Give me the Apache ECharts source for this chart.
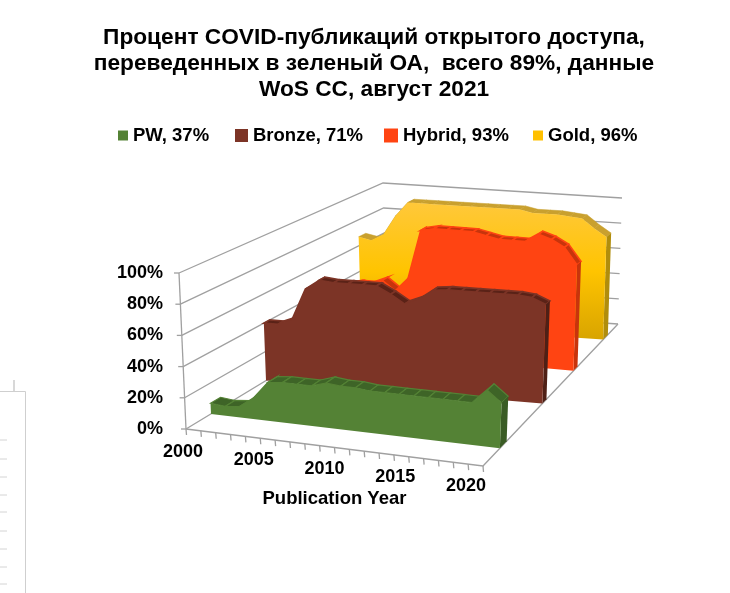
<!DOCTYPE html>
<html>
<head>
<meta charset="utf-8">
<title>COVID OA</title>
<style>
    html, body {margin: 0; padding: 0; background: #fff;}
    #main {width: 730px; height: 593px;}
</style>
<script src="https://cdn.jsdelivr.net/npm/echarts@6/dist/echarts.min.js"></script>
</head>
<body>
<div id="main"></div>
<script>
    // данные
    var years = [2000, 2001, 2002, 2003, 2004, 2005, 2006, 2007, 2008, 2009, 2010, 2011, 2012, 2013, 2014, 2015, 2016, 2017, 2018, 2019, 2020];
    var pw = [7, 6, 7, 14, 25, 26, 26, 26, 29, 28, 28, 27, 27, 27, 27, 27, 27, 27, 27, 36, 29];
    var bronze = [40, 40, 44, 66, 73, 72, 72, 72, 72, 67, 61, 65, 72, 73, 73, 73, 73, 73, 73, 72, 68];
    var hybrid = [40, 45, 48, 50, 50, 54, 47, 57, 93, 95, 95, 95, 95, 93, 91, 91, 91, 97, 94, 89, 77];
    var gold = [67, 65, 70, 85, 96, 96, 96, 96, 96, 96, 96, 96, 96, 96, 94, 94, 94, 93, 92, 85, 79];
    var percentTicks = [0, 20, 40, 60, 80, 100];
    var yearLabels = [2000, 2005, 2010, 2015, 2020];

    var FONT = '"Liberation Sans", Arial, sans-serif';
    var GRID = {left: 186, right: 483, top: 273, bottom: 429};

    // углы куба на экране (перспектива)
    var box = {
        flb: [186, 429], flt: [179, 273], frb: [483, 466], frt: [489, 305],
        blb: [386, 308], blt: [383, 183], brb: [618, 324], brt: [622, 198]
    };

    function mix(a, b, k) {
        return [a[0] + (b[0] - a[0]) * k, a[1] + (b[1] - a[1]) * k];
    }

    // t - по годам, v - по процентам, z - вглубь
    function project(t, v, z) {
        var fb = mix(box.flb, box.frb, t);
        var ft = mix(box.flt, box.frt, t);
        var bb = mix(box.blb, box.brb, t);
        var bt = mix(box.blt, box.brt, t);
        return mix(mix(fb, ft, v), mix(bb, bt, v), z);
    }

    // значения идут через оси графика, потом на плоскость куба
    // z - пара [слева, справа], глубина ряда чуть меняется из-за перспективы
    function toScreen(api, year, value, z, extra) {
        var p = api.coord([year, value]);
        var t = (p[0] - GRID.left) / (GRID.right - GRID.left);
        var v = (GRID.bottom - p[1]) / (GRID.bottom - GRID.top);
        return project(t, v, z[0] + (z[1] - z[0]) * t + (extra || 0));
    }

    function areaSeries(name, values, look) {
        return {
            type: 'custom',
            name: name,
            coordinateSystem: 'cartesian2d',
            itemStyle: {color: look.legend},
            encode: {x: 0, y: 1},
            data: years.map(function (y, i) { return [y, values[i]]; }),
            renderItem: function (params, api) {
                // вся фигура рисуется один раз, на первой точке
                if (params.dataIndex !== 0) return null;
                var z = look.z, d = look.depth;
                var children = [];
                var face = [];
                for (var i = 0; i < years.length; i++) {
                    face.push(toScreen(api, years[i], values[i], z));
                    if (i < years.length - 1) {
                        children.push({
                            type: 'polygon',
                            shape: {points: [
                                toScreen(api, years[i], values[i], z),
                                toScreen(api, years[i + 1], values[i + 1], z),
                                toScreen(api, years[i + 1], values[i + 1], z, d),
                                toScreen(api, years[i], values[i], z, d)
                            ]},
                            style: {fill: look.top, stroke: look.seam, lineWidth: look.seamWidth}
                        });
                    }
                }
                var last = years.length - 1;
                face.push(toScreen(api, years[last], 0, z));
                face.push(toScreen(api, years[0], 0, z));
                children.push({
                    type: 'polygon',
                    shape: {points: [
                        toScreen(api, years[last], values[last], z),
                        toScreen(api, years[last], values[last], z, d),
                        toScreen(api, years[last], 0, z, d),
                        toScreen(api, years[last], 0, z)
                    ]},
                    style: {fill: look.side}
                });
                children.push({type: 'polygon', shape: {points: face}, style: {fill: look.face}});
                return {type: 'group', children: children};
            }
        };
    }

    var goldFace = new echarts.graphic.LinearGradient(0, 0, 0, 1, [
        {offset: 0, color: '#FFC83A'},
        {offset: 0.5, color: '#FFC400'},
        {offset: 1, color: '#D8A400'}
    ]);

    var FRONT = [0, 0], BACK = [1, 1];

    var gridLines = {
        type: 'custom',
        coordinateSystem: 'cartesian2d',
        silent: true,
        data: percentTicks.map(function (p) { return [2000, p]; }),
        renderItem: function (params, api) {
            var value = api.value(1);
            var a = toScreen(api, 2000, value, FRONT);
            var b = toScreen(api, 2000, value, BACK);
            var c = toScreen(api, 2020, value, BACK);
            var line = {stroke: '#a0a0a0', lineWidth: 1.3, fill: null};
            return {
                type: 'group',
                children: [
                    {type: 'polyline', shape: {points: [a, b, c]}, style: line},
                    {type: 'line', shape: {x1: a[0] - 5, y1: a[1], x2: a[0], y2: a[1]}, style: line}
                ]
            };
        }
    };

    var yearTicks = {
        type: 'custom',
        coordinateSystem: 'cartesian2d',
        silent: true,
        data: years.map(function (y) { return [y, 0]; }),
        renderItem: function (params, api) {
            var year = api.value(0);
            var a = toScreen(api, year, 0, FRONT);
            var t = (year - 2000) / 20;
            var line = {stroke: '#a0a0a0', lineWidth: 1.3};
            var children = [
                {type: 'line', shape: {x1: a[0], y1: a[1], x2: a[0] + 0.5, y2: a[1] + 6}, style: line}
            ];
            if (params.dataIndex === 0) {
                var e = toScreen(api, 2000, 100, FRONT);
                var fr = toScreen(api, 2020, 0, FRONT);
                var br = toScreen(api, 2020, 0, BACK);
                children.push({type: 'line', shape: {x1: a[0], y1: a[1], x2: e[0], y2: e[1]}, style: line});
                children.push({type: 'polyline', shape: {points: [a, fr, br]}, style: {stroke: '#a0a0a0', lineWidth: 1.3, fill: null}});
            }
            if (yearLabels.indexOf(year) >= 0) {
                children.push({
                    type: 'text',
                    x: a[0] - 3 - 14 * t,
                    y: a[1] + 23 - 3 * t,
                    style: {
                        text: String(year),
                        font: 'bold 18px ' + FONT,
                        fill: '#000',
                        align: 'center',
                        verticalAlign: 'middle'
                    }
                });
            }
            return {type: 'group', children: children};
        }
    };

    function legendAt(name, left, size) {
        return {
            data: [name],
            left: left,
            top: 126,
            icon: 'rect',
            itemWidth: size,
            itemHeight: size,
            selectedMode: false,
            padding: 0,
            textStyle: {fontFamily: FONT, fontWeight: 'bold', fontSize: 18.5, color: '#000'}
        };
    }

    var names = ['PW, 37%', 'Bronze, 71%', 'Hybrid, 93%', 'Gold, 96%'];

    var option = {
        animation: false,
        backgroundColor: '#fff',
        title: {
            text: 'Процент COVID-публикаций открытого доступа,\nпереведенных в зеленый ОА,  всего 89%, данные\nWoS CC, август 2021',
            left: 369,
            top: 20,
            textAlign: 'center',
            textStyle: {fontFamily: FONT, fontWeight: 'bold', fontSize: 22.7, lineHeight: 26, color: '#000'}
        },
        legend: [
            legendAt(names[0], 118, 10),
            legendAt(names[1], 235, 13),
            legendAt(names[2], 384, 14),
            legendAt(names[3], 533, 10)
        ],
        grid: {left: GRID.left, width: GRID.right - GRID.left, top: GRID.top, height: GRID.bottom - GRID.top},
        xAxis: {
            type: 'value',
            min: 2000,
            max: 2020,
            interval: 5,
            axisLine: {show: false},
            axisTick: {show: false},
            splitLine: {show: false},
            axisLabel: {show: false},
            name: 'Publication Year',
            nameLocation: 'middle',
            nameGap: 60,
            nameTextStyle: {fontFamily: FONT, fontWeight: 'bold', fontSize: 18.5, color: '#000'}
        },
        yAxis: {
            type: 'value',
            min: 0,
            max: 100,
            interval: 20,
            axisLine: {show: false},
            axisTick: {show: false},
            splitLine: {show: false},
            axisLabel: {
                formatter: '{value}%',
                margin: 23,
                fontFamily: FONT,
                fontWeight: 'bold',
                fontSize: 18,
                color: '#000'
            }
        },
        graphic: [
            // кусок соседнего окна в углу скриншота
            {type: 'polyline', silent: true, shape: {points: [[0, 391.5], [25.5, 391.5], [25.5, 593]]}, style: {stroke: '#cfcfcf', lineWidth: 1, fill: '#fff'}},
            {type: 'line', silent: true, shape: {x1: 14, y1: 380, x2: 14, y2: 391}, style: {stroke: '#d8d8d8', lineWidth: 2}},
            {type: 'group', silent: true, children: [440, 459, 477, 495, 512, 531, 549, 567, 584].map(function (y) {
                return {type: 'line', shape: {x1: 0, y1: y, x2: 7, y2: y}, style: {stroke: '#d4d4d4', lineWidth: 1}};
            })}
        ],
        series: [
            gridLines,
            yearTicks,
            areaSeries(names[3], gold, {z: [0.875, 0.89], depth: 0.035, face: goldFace, top: '#C9A02E', seam: '#C9A02E', seamWidth: 0.5, side: '#B08D0C', legend: '#FFC000'}),
            areaSeries(names[2], hybrid, {z: [0.67, 0.67], depth: 0.03, face: '#FF4412', top: '#C8340C', seam: '#FF4412', seamWidth: 1.6, side: '#C8340C', legend: '#FF4412'}),
            areaSeries(names[1], bronze, {z: [0.40, 0.44], depth: 0.03, face: '#7C3426', top: '#5A2217', seam: '#7C3426', seamWidth: 1.6, side: '#4F2016', legend: '#7C3426'}),
            areaSeries(names[0], pw, {z: [0.125, 0.125], depth: 0.05, face: '#548235', top: '#3E6427', seam: '#548235', seamWidth: 1.2, side: '#3A5C25', legend: '#548235'})
        ]
    };

    var Chart = echarts.init(document.getElementById('main'));
    Chart.setOption(option);
</script>
</body>
</html>
